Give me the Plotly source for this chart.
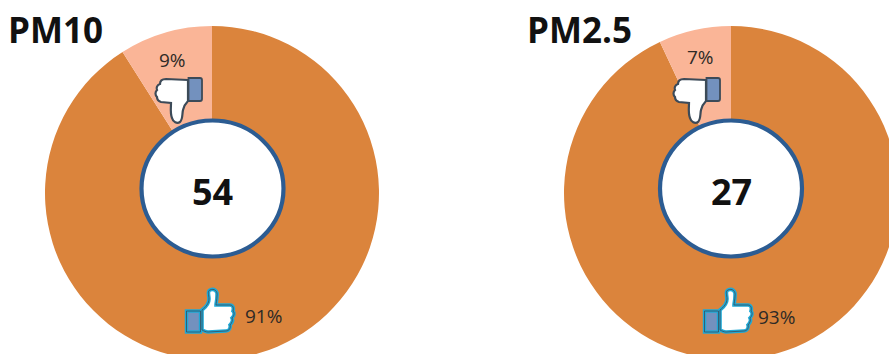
import re
import plotly.graph_objects as go

# Pollutant shares shown as two donuts
titles = ["PM10", "PM2.5"]
center_counts = [54, 27]
good_shares = [91, 93]
bad_shares = [9, 7]

ORANGE = "#DB843C"
PEACH = "#FAB597"
RING = "#2C5C92"
CUFF = "#7391BE"
EDGE = "#3C4A58"
GLOW = "#1FA9D6"
INK = "#2E2A26"

# The canvas runs past the visible page so the donuts bleed off the edges
W, H = 902, 364
RADIUS = 167
HOLE_R = 62
centers = [(212, 193), (731, 193)]
hub_x = [212.5, 731]
thumb_shift = [0, 518]
title_x = [6, 525]
bad_label_pos = [(172.5, 60), (700, 57)]
good_label_pos = [(263, 316), (776, 317)]


def px(x, y):
    return x / W, 1 - y / H


def path(cmd, dx=0):
    """Convert an absolute pixel path into paper coordinates."""
    tokens = re.findall(r"[A-Za-z]|-?[\d.]+", cmd)
    out, is_x, xv = [], True, 0
    for t in tokens:
        if t.isalpha():
            out.append(t)
            is_x = True
        elif is_x:
            xv = float(t) + dx
            is_x = False
        else:
            a, b = px(xv, float(t))
            out.append(f"{a:.5f},{b:.5f}")
            is_x = True
    return " ".join(out)


THUMB_DOWN_HAND = (
    "M 188 80 L 166 79 C 162 79 160 81 160 84 C 157 85 156 88 157 90 "
    "C 155 92 155 95 157 97 C 157 100 158 101 161 102 L 171 103 "
    "C 171 108 170 113 172 118 C 173 122 177 124 180 122 C 183 119 182 114 183 110 "
    "C 184 106 186 103 188 101 Z"
)
THUMB_DOWN_CUFF = "M 188.5 78 L 200 78 C 201 78 202 79 202 80 L 202 99 C 202 100 201 101 200 101 L 188.5 101 Z"

THUMB_UP_HAND = (
    "M 202 310 C 206 307 209 303 209 299 C 209 295 207 291 210 290 C 214 288 218 291 217 296 "
    "C 217 300 216 303 216 305 L 230 305 C 233 305 234 308 233 311 C 235 313 234 316 232 318 "
    "C 233 320 232 323 230 325 C 231 328 229 331 226 331 L 208 332 C 206 332 204 331 202 330 Z"
)
THUMB_UP_CUFF = "M 186.5 311 L 200.5 311 L 200.5 332 L 186.5 332 Z"


def outline(cmd, dx, fill, color, width):
    return dict(type="path", xref="paper", yref="paper", path=path(cmd, dx),
                fillcolor=fill, line=dict(color=color, width=width))


fig = go.Figure()
shapes, annotations = [], []


def note(text, x, y, size, bold=False, color=INK, anchor="center"):
    a, b = px(x, y)
    annotations.append(dict(
        text=f"<b>{text}</b>" if bold else text,
        x=a, y=b, xref="paper", yref="paper",
        xanchor=anchor, yanchor="middle", showarrow=False,
        font=dict(family="Open Sans", size=size, color=color),
    ))


for i, (cx, cy) in enumerate(centers):
    x0, y1 = px(cx - RADIUS, cy - RADIUS)
    x1, y0 = px(cx + RADIUS, cy + RADIUS)
    fig.add_trace(go.Pie(
        values=[good_shares[i], bad_shares[i]],
        labels=["Good", "Bad"],
        domain=dict(x=[x0, x1], y=[y0, y1]),
        hole=HOLE_R / RADIUS,
        sort=False,
        direction="clockwise",
        rotation=0,
        textinfo="none",
        hoverinfo="label+percent",
        showlegend=False,
        marker=dict(colors=[ORANGE, PEACH], line=dict(width=0)),
    ))

    # White hub sits a little above the donut centre and is slightly oval
    hx0, hy1 = px(hub_x[i] - 71, 120.5)
    hx1, hy0 = px(hub_x[i] + 71, 256.5)
    shapes.append(dict(type="circle", xref="paper", yref="paper",
                       x0=hx0, x1=hx1, y0=hy0, y1=hy1,
                       fillcolor="white", line=dict(color=RING, width=4.2)))

    dx = thumb_shift[i]
    shapes.append(outline(THUMB_DOWN_HAND, dx, "white", EDGE, 2.2))
    shapes.append(outline(THUMB_DOWN_CUFF, dx, CUFF, EDGE, 1.8))
    shapes.append(outline(THUMB_UP_CUFF, dx, CUFF, GLOW, 3.4))
    shapes.append(outline(THUMB_UP_HAND, dx, "white", GLOW, 3.6))
    shapes.append(outline(THUMB_UP_CUFF, dx, "rgba(0,0,0,0)", EDGE, 0.8))
    shapes.append(outline(THUMB_UP_HAND, dx, "rgba(0,0,0,0)", EDGE, 0.8))

    note(titles[i], title_x[i], 29.5, 35, bold=True, color="#111111", anchor="left")
    note(str(center_counts[i]), hub_x[i], 191, 36, bold=True, color="#111111")
    note(f"{bad_shares[i]}%", *bad_label_pos[i], 19)
    note(f"{good_shares[i]}%", *good_label_pos[i], 19)

fig.update_layout(
    width=W, height=H,
    margin=dict(l=0, r=0, t=0, b=0),
    paper_bgcolor="white",
    shapes=shapes,
    annotations=annotations,
)

fig.write_html(
    "out.html",
    post_script="document.documentElement.style.overflow='hidden';document.body.style.overflow='hidden';",
)
